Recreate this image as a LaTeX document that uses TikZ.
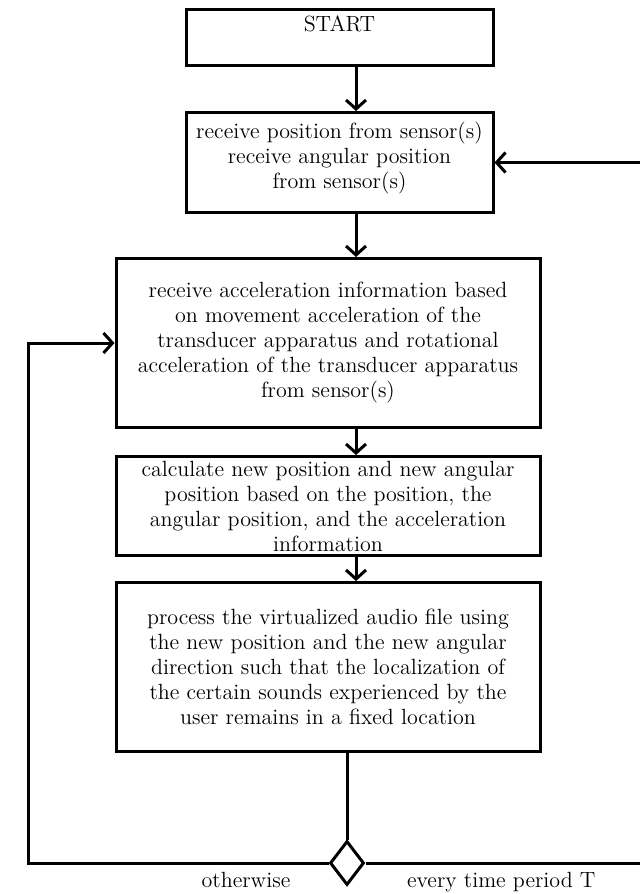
\documentclass[tikz,border=0pt]{standalone}
\usepackage{tikz}
\usetikzlibrary{arrows.meta,positioning,shapes.geometric}

\begin{document}
\begin{tikzpicture}[
  x=1pt, y=-1pt,
  stepbox/.style={draw=black, line width=1.5pt, align=center,
                  inner xsep=3pt, inner ysep=0.5pt,
                  font=\fontsize{11}{12.5}\selectfont},
  decide/.style={draw=black, line width=1.5pt, diamond, fill=white,
                 inner sep=0pt, minimum width=17pt, minimum height=22pt},
  ar/.style={-{Straight Barb[length=4.5pt,width=10pt]}, line width=1.5pt},
  ln/.style={line width=1.5pt},
  lbl/.style={font=\fontsize{11}{12.5}\selectfont},
]
  \useasboundingbox (0,0) rectangle (319.5,447);

  \node[stepbox, minimum width=153.5pt, minimum height=28pt, anchor=north,
        text height=8pt, text depth=14pt] (start) at (169.75,4) {START};
  \node[stepbox, minimum width=153.5pt, minimum height=50pt, below=22pt of start] (recv)
    {receive position from sensor(s)\\
     receive angular position\\
     from sensor(s)\\[-5pt]};
  \node[stepbox, minimum width=212pt, minimum height=84.5pt, below=21.5pt of recv,
        xshift=-5.75pt] (accel)
    {receive acceleration information based\\
     on movement acceleration of the\\
     transducer apparatus and rotational\\
     acceleration of the transducer apparatus\\
     from sensor(s)};
  \node[stepbox, minimum width=212pt, minimum height=49.5pt, below=13pt of accel] (calc)
    {calculate new position and new angular\\
     position based on the position, the\\
     angular position, and the acceleration\\
     information};
  \node[stepbox, minimum width=212pt, minimum height=84.5pt, below=12pt of calc] (proc)
    {process the virtualized audio file using\\
     the new position and the new angular\\
     direction such that the localization of\\
     the certain sounds experienced by the\\
     user remains in a fixed location};
  \node[decide] (dec) at (173.5,431.5) {};

  \node[lbl, anchor=base] (lother) at (123,443.5) {otherwise};
  \node[lbl, anchor=base west] (lperiod) at (200,443.5) {every time period T};

  \coordinate (spine) at (178,0);
  \coordinate (lbend) at (14,0);
  \coordinate (rbend) at (323,0); % runs off the page

  \draw[ar] (start.south -| spine) -- (recv.north -| spine);
  \draw[ar] (recv.south -| spine) -- (accel.north -| spine);
  \draw[ar] (accel.south -| spine) -- (calc.north -| spine);
  \draw[ar] (calc.south -| spine) -- (proc.north -| spine);
  \draw[ln] (proc.south -| dec) -- (dec.north);

  \draw[ar] (dec.west) -| (accel.west -| lbend) -- (accel.west);
  \draw[ar] (dec.east) -| (recv.east -| rbend) -- (recv.east);
\end{tikzpicture}
\end{document}
